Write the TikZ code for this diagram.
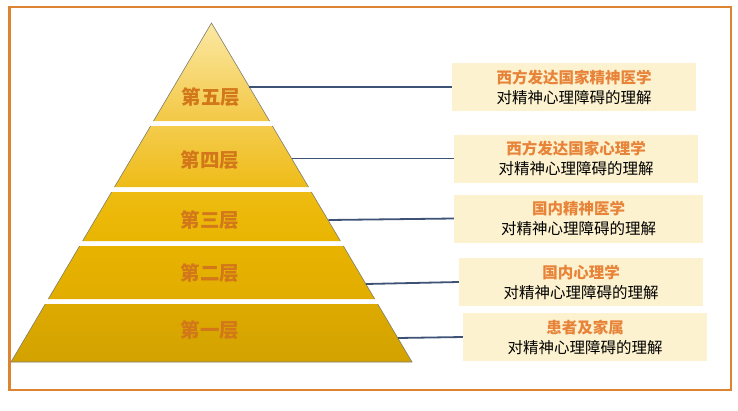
\documentclass[tikz,border=0pt]{standalone}
\usepackage{fontspec}
\setmainfont{Noto Sans CJK SC}
\definecolor{frameorange}{HTML}{DD8433}
\definecolor{layertext}{HTML}{D2771A}
\definecolor{boxfill}{HTML}{FDF2CF}
\definecolor{titleorange}{HTML}{E8843A}
\definecolor{linkblue}{HTML}{3E5276}
\definecolor{edgegray}{HTML}{7E7E6A}
\definecolor{l5top}{HTML}{FBE8A4}
\definecolor{l5bot}{HTML}{F3C845}
\definecolor{l4top}{HTML}{F4CB4C}
\definecolor{l4bot}{HTML}{EEBC18}
\definecolor{l3top}{HTML}{EEBC10}
\definecolor{l3bot}{HTML}{E9B502}
\definecolor{l2top}{HTML}{E8B300}
\definecolor{l2bot}{HTML}{E1AD00}
\definecolor{l1top}{HTML}{DDAA00}
\definecolor{l1bot}{HTML}{D3A200}
\begin{document}
\begin{tikzpicture}[x=1pt, y=-1pt,
  layerlabel/.style={font=\fontsize{19.5}{19.5}\selectfont\bfseries, text=layertext},
  infobox/.style={fill=boxfill, minimum width=244pt, minimum height=48pt, inner sep=0pt,
    align=center, font=\fontsize{15.5}{20}\selectfont},
  edgeline/.style={draw=edgegray, line width=0.6pt},
  linkline/.style={draw=linkblue, line width=1.8pt}]
\useasboundingbox (0,0) rectangle (738,410);

% Outer frame
\draw[frameorange, line width=2.5pt] (9.5,7) rectangle (731,390);

% Draw the layers of the pyramid
\shade[top color=l5top, bottom color=l5bot] (211.5,23) -- (269.5,121) -- (153.5,121) -- cycle;
\draw[edgeline] (153.5,121) -- (211.5,23) -- (269.5,121);
\shade[top color=l4top, bottom color=l4bot] (150.6,126) -- (272.4,126) -- (308.5,187) -- (114.5,187) -- cycle;
\draw[edgeline] (150.6,126) -- (114.5,187) (272.4,126) -- (308.5,187);
\shade[top color=l3top, bottom color=l3bot] (111.6,192) -- (311.4,192) -- (340.4,241) -- (82.6,241) -- cycle;
\draw[edgeline] (111.6,192) -- (82.6,241) (311.4,192) -- (340.4,241);
\shade[top color=l2top, bottom color=l2bot] (79.6,246) -- (343.4,246) -- (374.7,299) -- (48.3,299) -- cycle;
\draw[edgeline] (79.6,246) -- (48.3,299) (343.4,246) -- (374.7,299);
\shade[top color=l1top, bottom color=l1bot] (45.3,304) -- (377.7,304) -- (412,362) -- (11,362) -- cycle;
\draw[edgeline] (45.3,304) -- (11,362) -- (412,362) -- (377.7,304);

% Layer names
\node[layerlabel] (l5) at (211,97) {第五层};
\node[layerlabel] (l4) at (210,160) {第四层};
\node[layerlabel] (l3) at (210,220) {第三层};
\node[layerlabel] (l2) at (210,273) {第二层};
\node[layerlabel] (l1) at (210,330) {第一层};

% Boxes on the right
\node[infobox] (b5) at (574,87) {\textbf{\textcolor{titleorange}{西方发达国家精神医学}}\\对精神心理障碍的理解};
\node[infobox] (b4) at (576,158.5) {\textbf{\textcolor{titleorange}{西方发达国家心理学}}\\对精神心理障碍的理解};
\node[infobox, minimum width=249pt] (b3) at (578.5,218.5) {\textbf{\textcolor{titleorange}{国内精神医学}}\\对精神心理障碍的理解};
\node[infobox] (b2) at (581,282) {\textbf{\textcolor{titleorange}{国内心理学}}\\对精神心理障碍的理解};
\node[infobox] (b1) at (585,337) {\textbf{\textcolor{titleorange}{患者及家属}}\\对精神心理障碍的理解};

% Connectors from the pyramid edge
\coordinate (e5) at (249.3,87);
\coordinate (e4) at (291.6,158.5);
\coordinate (e3) at (328.5,220);
\coordinate (e2) at (365.9,284);
\coordinate (e1) at (397.8,338);
\draw[linkline] (e5) -- (b5.west);
\draw[linkline] (e4) -- (b4.west);
\draw[linkline] (e3) -- (b3.west);
\draw[linkline] (e2) -- (b2.west);
\draw[linkline] (e1) -- (b1.west);
\end{tikzpicture}
\end{document}
